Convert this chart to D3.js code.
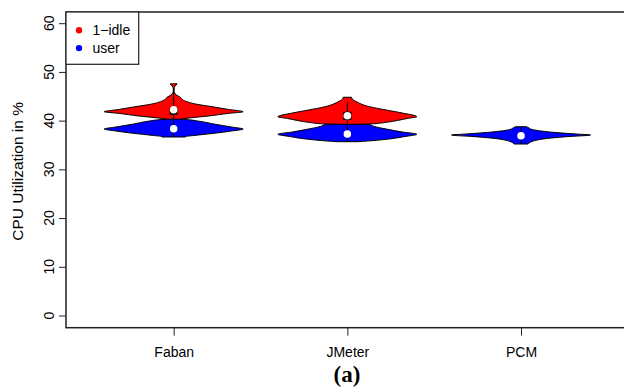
<!DOCTYPE html>
<html>
<head>
<meta charset="utf-8">
<script src="https://cdn.jsdelivr.net/npm/d3@7"></script>
<style>
  body { margin: 0; background: #fff; }
  text { font-family: "Liberation Sans", Arial, sans-serif; }
</style>
</head>
<body>
<script>
// categories and series
const groups = ["Faban", "JMeter", "PCM"];
const seriesNames = ["1\u2212idle", "user"];
const yTicks = [0, 10, 20, 30, 40, 50, 60];

// density profiles (value, relative density)
const fabanIdleVal = [40.1, 40.33, 40.64, 41.05, 41.6, 41.93, 42.4, 42.9, 43.5, 44.3, 44.95, 45.36, 45.8, 46.2, 46.8, 47.2, 47.65];
const fabanIdleDen = [0.0, 0.07, 0.22, 0.5, 0.79, 1.0, 0.79, 0.58, 0.32, 0.14, 0.09, 0.04, 0.012, 0.006, 0.006, 0.022, 0.05];
const fabanUserVal = [36.74, 36.84, 37.05, 37.5, 37.97, 38.38, 38.8, 39.4, 40.0, 40.33, 40.43];
const fabanUserDen = [0.17, 0.17, 0.29, 0.58, 0.83, 1.0, 0.83, 0.58, 0.36, 0.17, 0.0];
const jmeterIdleVal = [39.3, 39.41, 39.76, 40.13, 40.54, 40.91, 41.67, 42.28, 42.96, 43.92, 44.54, 44.9];
const jmeterIdleDen = [0.0, 0.32, 0.56, 0.72, 0.86, 1.0, 0.79, 0.56, 0.32, 0.14, 0.07, 0.06];
const jmeterUserVal = [35.78, 35.92, 36.27, 36.84, 37.3, 37.77, 38.32, 38.9, 39.35];
const jmeterUserDen = [0.14, 0.29, 0.56, 0.83, 1.0, 0.79, 0.58, 0.39, 0.32];
const pcmUserVal = [35.3, 35.71, 36.12, 36.53, 36.84, 37.15, 37.36, 37.66, 37.97, 38.28, 38.59, 38.85];
const pcmUserDen = [0.1, 0.14, 0.23, 0.43, 0.69, 1.0, 0.79, 0.5, 0.29, 0.16, 0.115, 0.08];

// one entry per violin: group index, series index, box stats
const violinGroup = [0, 0, 1, 1, 2];
const violinSeries = [0, 1, 0, 1, 1];
const violinVals = [fabanIdleVal, fabanUserVal, jmeterIdleVal, jmeterUserVal, pcmUserVal];
const violinDens = [fabanIdleDen, fabanUserDen, jmeterIdleDen, jmeterUserDen, pcmUserDen];
const whiskLo = [40.1, 36.74, 39.3, 35.78, 35.3];
const whiskHi = [46.8, 40.43, 44.0, 39.35, 38.85];
const q1 = [41.3, 38.25, 40.23, 37.1, 36.85];
const q3 = [42.8, 38.65, 41.93, 37.6, 37.15];
const medians = [42.35, 38.45, 41.1, 37.36, 37.0];

const width = 624, height = 389;
const colors = ["#ff0000", "#0000ff"];

const svg = d3.select("body").append("svg")
  .attr("width", width).attr("height", height);

const x = d3.scaleLinear().domain([0.38, 3.62]).range([66, 628.7]);
const y = d3.scaleLinear().domain([-2.4, 62.4]).range([327.7, 12]);
const halfW = x(1.4) - x(1);

// violins
violinVals.forEach((vals, i) => {
  const cx = x(violinGroup[i] + 1);
  const pts = vals.map((v, j) => [v, violinDens[i][j]]);
  const area = d3.area()
    .curve(d3.curveMonotoneY)
    .y(d => y(d[0]))
    .x0(d => cx - d[1] * halfW)
    .x1(d => cx + d[1] * halfW);
  svg.append("path").attr("d", area(pts))
    .attr("fill", colors[violinSeries[i]])
    .attr("stroke", "#000").attr("stroke-width", 1);
  svg.append("line")
    .attr("x1", cx).attr("x2", cx)
    .attr("y1", y(whiskLo[i])).attr("y2", y(whiskHi[i]))
    .attr("stroke", "#000").attr("stroke-width", 1);
  svg.append("rect")
    .attr("x", cx - 4).attr("width", 8)
    .attr("y", y(q3[i])).attr("height", y(q1[i]) - y(q3[i]))
    .attr("fill", "#000");
  svg.append("circle")
    .attr("cx", cx).attr("cy", y(medians[i])).attr("r", 3.8)
    .attr("fill", "#fff");
});

// frame
svg.append("rect")
  .attr("x", 66).attr("y", 12).attr("width", 564).attr("height", 327.7 - 12)
  .attr("fill", "none").attr("stroke", "#222").attr("stroke-width", 1.5);

// y axis
const yAxis = svg.append("g").attr("transform", "translate(66,0)")
  .call(d3.axisLeft(y).tickValues(yTicks).tickSize(7).tickPadding(0));
yAxis.select(".domain").remove();
yAxis.selectAll(".tick line").attr("stroke", "#222");
yAxis.selectAll(".tick text")
  .attr("transform", d => `translate(${-17},${y(d) - 0.5}) rotate(-90)`)
  .attr("x", 0).attr("y", 0).attr("dy", "0.35em")
  .attr("text-anchor", "middle")
  .style("font-size", "14px").style("font-family", "Liberation Sans, Arial, sans-serif")
  .attr("fill", "#000");
yAxis.selectAll(".tick").attr("transform", null);
yAxis.selectAll(".tick line").attr("y1", d => y(d)).attr("y2", d => y(d));

svg.append("text")
  .attr("transform", `translate(18,${(12 + 327.7) / 2 + 1.5}) rotate(-90)`)
  .attr("text-anchor", "middle").attr("dy", "0.35em")
  .style("font-size", "15.5px")
  .text("CPU Utilization in %");

// x axis
const xAxis = svg.append("g").attr("transform", "translate(0,327.7)")
  .call(d3.axisBottom(x).tickValues([1, 2, 3]).tickFormat(d => groups[d - 1]).tickSize(8).tickPadding(11));
xAxis.select(".domain").remove();
xAxis.selectAll(".tick line").attr("stroke", "#222");
xAxis.selectAll(".tick text")
  .style("font-size", "14px").style("font-family", "Liberation Sans, Arial, sans-serif")
  .attr("fill", "#000");

// legend
svg.append("rect")
  .attr("x", 66).attr("y", 12).attr("width", 72.7).attr("height", 52.3)
  .attr("fill", "#fff").attr("stroke", "#222").attr("stroke-width", 1.2);
const leg = svg.selectAll(".leg").data(seriesNames).enter().append("g")
  .attr("transform", (d, i) => `translate(79,${30.3 + i * 17.8})`);
leg.append("circle").attr("r", 3.2).attr("fill", (d, i) => colors[i]);
leg.append("text").attr("x", 13.5).attr("dy", "0.35em")
  .style("font-size", "14px").text(d => d);

// caption
svg.append("text")
  .attr("x", 347).attr("y", 382)
  .attr("text-anchor", "middle")
  .style("font-family", "Liberation Serif, Times New Roman, serif")
  .style("font-weight", "bold").style("font-size", "23px")
  .text("(a)");
</script>
</body>
</html>
